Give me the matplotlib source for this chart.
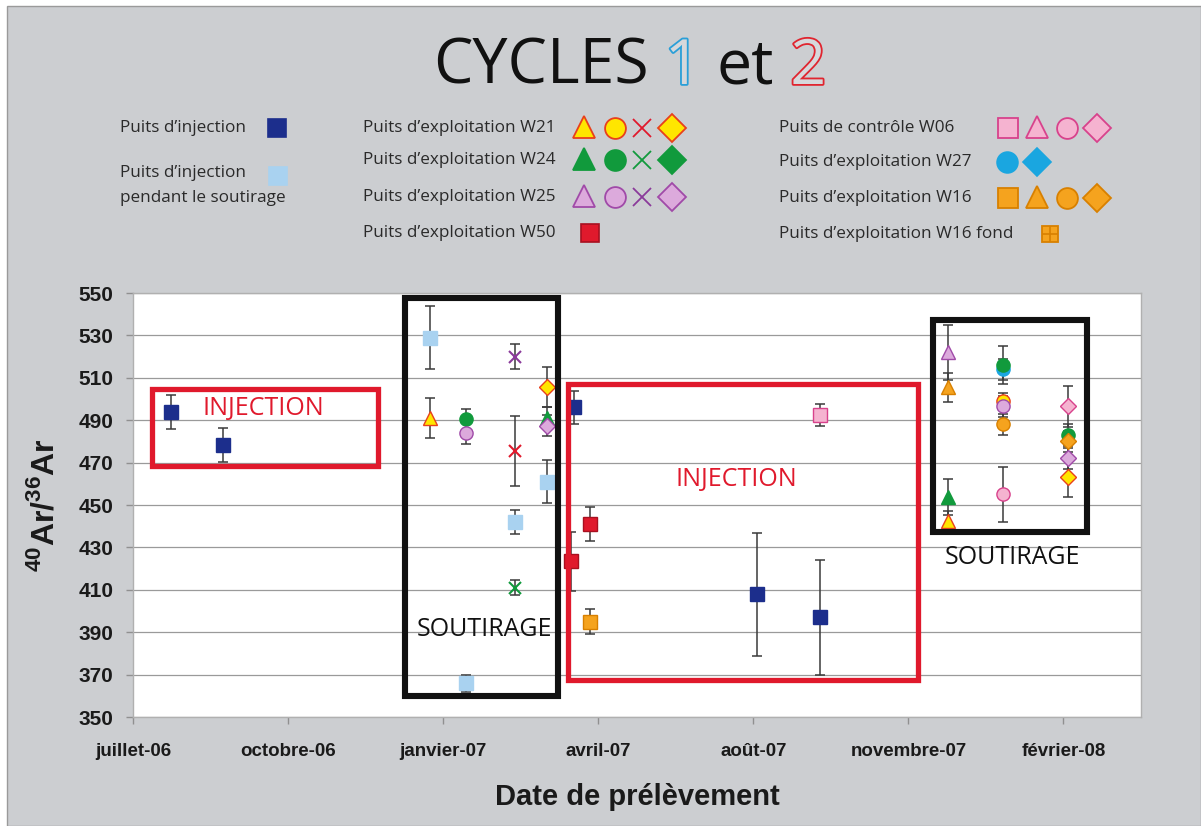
import matplotlib
matplotlib.use('Agg')
import matplotlib.pyplot as plt
import matplotlib.dates as mdates
import matplotlib.patheffects as pe
from matplotlib.patches import Rectangle
import numpy as np

plt.rcParams['mathtext.fontset'] = 'custom'
plt.rcParams['mathtext.rm'] = 'Liberation Sans:bold'
plt.rcParams['mathtext.bf'] = 'Liberation Sans:bold'

# ---------------- data ----------------
tick_labels = ['juillet-06', 'octobre-06', 'janvier-07', 'avril-07',
               'août-07', 'novembre-07', 'février-08']
y_ticks = [350, 370, 390, 410, 430, 450, 470, 490, 510, 530, 550]

inj_dates = ['2006-08-03', '2006-09-04', '2007-04-12', '2007-08-04', '2007-09-13']
inj_vals = [494, 478.5, 496, 408, 397]
inj_err = [8, 8, 8, 29, 27]

injs_dates = ['2007-01-12', '2007-03-06', '2007-03-26', '2007-02-03']
injs_vals = [529, 442, 461, 366]
injs_err = [15, 5.5, 10, 4]

w21_tri_dates = ['2007-01-12', '2007-12-02']
w21_tri_vals = [491, 442.5]
w21_tri_err = [9.5, 4.5]
w21_cir_dates = ['2008-01-05']
w21_cir_vals = [499]
w21_cir_err = [4]
w21_x_dates = ['2007-03-06']
w21_x_vals = [475.5]
w21_x_err = [16.5]
w21_dia_dates = ['2007-03-26', '2008-02-15']
w21_dia_vals = [505.5, 463]
w21_dia_err = [9.5, 9]

w24_tri_dates = ['2007-03-26', '2007-12-02']
w24_tri_vals = [491, 454]
w24_tri_err = [5, 8.5]
w24_cir_dates = ['2007-02-03', '2008-01-05', '2008-02-15']
w24_cir_vals = [490.5, 516, 483]
w24_cir_err = [5, 9, 5]
w24_x_dates = ['2007-03-06']
w24_x_vals = [411]
w24_x_err = [3.5]

w25_tri_dates = ['2007-12-02']
w25_tri_vals = [522]
w25_tri_err = [13]
w25_cir_dates = ['2007-02-03', '2008-01-05']
w25_cir_vals = [484, 496.5]
w25_cir_err = [5, 5]
w25_x_dates = ['2007-03-06']
w25_x_vals = [520]
w25_x_err = [6]
w25_dia_dates = ['2007-03-26', '2008-02-15']
w25_dia_vals = [487.5, 472]
w25_dia_err = [5, 5]

w50_dates = ['2007-04-10', '2007-04-22']
w50_vals = [423.5, 441]
w50_err = [14, 8]

w06_sq_dates = ['2007-09-13']
w06_sq_vals = [492.5]
w06_sq_err = [5]
w06_cir_dates = ['2008-01-05']
w06_cir_vals = [455]
w06_cir_err = [13]
w06_dia_dates = ['2008-02-15']
w06_dia_vals = [496.5]
w06_dia_err = [9.5]

w27_cir_dates = ['2008-01-05']
w27_cir_vals = [514]
w27_cir_err = [5]

w16_sq_dates = ['2007-04-22']
w16_sq_vals = [395]
w16_sq_err = [6]
w16_tri_dates = ['2007-12-02']
w16_tri_vals = [505.5]
w16_tri_err = [7]
w16_cir_dates = ['2008-01-05']
w16_cir_vals = [488]
w16_cir_err = [5]
w16_dia_dates = ['2008-02-15']
w16_dia_vals = [480]
w16_dia_err = [5]

# ---------------- styles ----------------
NAVY = '#1c2e8c'
LBLUE = '#a9d2f0'
YEL, YEL_E = '#ffe600', '#e8401c'
RED = '#e0192c'
GRN = '#119a3c'
LAV, LAV_E = '#dcaadc', '#a04aa8'
PURP = '#8a3a9a'
PINK, PINK_E = '#f5b3d0', '#d8428c'
CYAN = '#1aa6e0'
ORA, ORA_E = '#f5a31e', '#d88000'

series = [
    # (dates, vals, err, marker, face, edge, size)
    (inj_dates, inj_vals, inj_err, 's', NAVY, NAVY, 9.5),
    (injs_dates, injs_vals, injs_err, 's', LBLUE, LBLUE, 9.5),
    (w27_cir_dates, w27_cir_vals, w27_cir_err, 'o', CYAN, CYAN, 9.5),
    (w24_tri_dates, w24_tri_vals, w24_tri_err, '^', GRN, GRN, 10.5),
    (w24_cir_dates, w24_cir_vals, w24_cir_err, 'o', GRN, GRN, 9.5),
    (w24_x_dates, w24_x_vals, w24_x_err, 'x', GRN, GRN, 8),
    (w21_tri_dates, w21_tri_vals, w21_tri_err, '^', YEL, YEL_E, 10.5),
    (w21_cir_dates, w21_cir_vals, w21_cir_err, 'o', YEL, YEL_E, 9.5),
    (w21_x_dates, w21_x_vals, w21_x_err, 'x', RED, RED, 9),
    (w21_dia_dates, w21_dia_vals, w21_dia_err, 'D', YEL, YEL_E, 8.5),
    (w50_dates, w50_vals, w50_err, 's', RED, '#a81020', 9.5),
    (w06_sq_dates, w06_sq_vals, w06_sq_err, 's', PINK, PINK_E, 9.5),
    (w06_cir_dates, w06_cir_vals, w06_cir_err, 'o', PINK, PINK_E, 9.5),
    (w06_dia_dates, w06_dia_vals, w06_dia_err, 'D', PINK, PINK_E, 8.5),
    (w16_sq_dates, w16_sq_vals, w16_sq_err, 's', ORA, ORA_E, 9.5),
    (w16_tri_dates, w16_tri_vals, w16_tri_err, '^', ORA, ORA_E, 10.5),
    (w16_cir_dates, w16_cir_vals, w16_cir_err, 'o', ORA, ORA_E, 9.5),
    (w16_dia_dates, w16_dia_vals, w16_dia_err, 'D', ORA, ORA_E, 8.5),
    (w25_tri_dates, w25_tri_vals, w25_tri_err, '^', LAV, LAV_E, 10.5),
    (w25_cir_dates, w25_cir_vals, w25_cir_err, 'o', LAV, LAV_E, 9.5),
    (w25_x_dates, w25_x_vals, w25_x_err, 'x', PURP, PURP, 9),
    (w25_dia_dates, w25_dia_vals, w25_dia_err, 'D', LAV, LAV_E, 8.5),
]

def to_num(dates):
    return mdates.date2num(np.array(dates, dtype='datetime64[D]'))

# ---------------- figure ----------------
W, H = 1201, 826
fig = plt.figure(figsize=(W / 100, H / 100), dpi=100, facecolor='white')

ov = fig.add_axes([0, 0, 1, 1], zorder=0)
ov.set_xlim(0, W)
ov.set_ylim(H, 0)
ov.axis('off')
ov.add_patch(Rectangle((7, 6), W - 7, H - 6, facecolor='#ccced1',
                       edgecolor='#9a9a9a', lw=1))

# main axes (pixel frame: x 133..1141, y 293..717)
AX_L, AX_R, AX_T, AX_B = 133, 1141, 293, 717
ax = fig.add_axes([AX_L / W, 1 - AX_B / H, (AX_R - AX_L) / W, (AX_B - AX_T) / H],
                  zorder=1)
ax.set_facecolor('white')

x_start = mdates.date2num(np.datetime64('2006-07-10'))
x_step = 97
ax.set_xlim(x_start, x_start + 6.5 * x_step)
ax.set_xticks([x_start + k * x_step for k in range(len(tick_labels))])
ax.set_xticklabels(tick_labels)
ax.set_ylim(350, 550)
ax.set_yticks(y_ticks)
ax.grid(axis='y', color='#9a9a9a', lw=0.9)
ax.set_axisbelow(True)
for s in ax.spines.values():
    s.set_color('#b0b0b0')
    s.set_linewidth(1)
ax.tick_params(axis='both', direction='out', color='#909090', length=5, width=1)
ax.tick_params(axis='x', pad=14)
ax.tick_params(axis='y', pad=9)
for lab in ax.get_xticklabels():
    lab.set_family('Liberation Sans'); lab.set_weight('bold'); lab.set_fontsize(13.5)
    lab.set_color('#1a1a1a')
for lab in ax.get_yticklabels():
    lab.set_family('Liberation Sans'); lab.set_weight('bold'); lab.set_fontsize(15)
    lab.set_color('#1a1a1a')

# error bars first, then markers
for d, v, e, m, fc, ec, ms in series:
    ax.errorbar(to_num(d), v, yerr=e, fmt='none', ecolor='#3a3a3a', elinewidth=1.1,
                capsize=3.8, capthick=1.1, zorder=2)
for i, (d, v, e, m, fc, ec, ms) in enumerate(series):
    ax.plot(to_num(d), v, linestyle='none', marker=m, markersize=ms,
            markerfacecolor=fc, markeredgecolor=ec,
            markeredgewidth=1.5 if m == 'x' else 1.0, zorder=3 + i * 0.01)

# annotation boxes (pixel coords -> axes fraction)
def px_box(x0, y0, x1, y1):
    return ((x0 - AX_L) / (AX_R - AX_L), (AX_B - y1) / (AX_B - AX_T),
            (x1 - x0) / (AX_R - AX_L), (y1 - y0) / (AX_B - AX_T))

def px_pt(x, y):
    return ((x - AX_L) / (AX_R - AX_L), (AX_B - y) / (AX_B - AX_T))

boxes = [((152, 389, 378, 466), RED, 3.8),
         ((405, 298, 558, 696), '#111111', 4.4),
         ((568, 384, 918, 680), RED, 3.8),
         ((933, 320, 1087, 532), '#111111', 4.4)]
for (x0, y0, x1, y1), col, lw in boxes:
    bx, by, bw, bh = px_box(x0, y0, x1, y1)
    ax.add_patch(Rectangle((bx, by), bw, bh, transform=ax.transAxes, fill=False,
                           edgecolor=col, lw=lw, clip_on=False, zorder=6,
                           joinstyle='miter'))

labels_in = [('INJECTION', 263, 409, RED), ('INJECTION', 736, 480, RED),
             ('SOUTIRAGE', 484, 630, '#111111'), ('SOUTIRAGE', 1013, 557, '#111111')]
for txt, x, y, col in labels_in:
    tx, ty = px_pt(x, y)
    ax.text(tx, ty, txt, transform=ax.transAxes, ha='center', va='center',
            color=col, fontsize=18, family='Open Sans', zorder=7, clip_on=False)

ax.set_xlabel('Date de prélèvement', family='Liberation Sans', weight='bold',
              fontsize=21, color='#1a1a1a')
ax.xaxis.label.set_va('center')
ax.xaxis.set_label_coords(*px_pt(637, 797))
ax.set_ylabel(r'$^{40}$Ar/$^{36}$Ar', family='Liberation Sans', weight='bold',
              fontsize=23, color='#1a1a1a')
ax.yaxis.label.set_va('center')
ax.yaxis.set_label_coords(*px_pt(45, 505))

# ---------------- title ----------------
TFS = 45
t1 = fig.text(433 / W, 1 - 84 / H, 'CYCLES', fontsize=TFS, family='Open Sans',
              color='#111111', va='baseline', ha='left')
sp = 0.26 * TFS
t2 = ov.annotate('1', xy=(1, 0), xycoords=t1, xytext=(sp, 0), textcoords='offset points',
                 va='bottom', ha='left', fontsize=TFS, family='Open Sans', color='#d6d8db',
                 path_effects=[pe.Stroke(linewidth=2.6, foreground='#2a9fd8'), pe.Normal()])
t3 = ov.annotate('et', xy=(1, 0), xycoords=t2, xytext=(sp, 0), textcoords='offset points',
                 va='bottom', ha='left', fontsize=TFS, family='Open Sans', color='#111111')
t4 = ov.annotate('2', xy=(1, 0), xycoords=t3, xytext=(sp, 0), textcoords='offset points',
                 va='bottom', ha='left', fontsize=TFS, family='Open Sans', color='#d6d8db',
                 path_effects=[pe.Stroke(linewidth=2.6, foreground='#e0252f'), pe.Normal()])

# ---------------- legend (pixel overlay) ----------------
LFS = 12.3
LCOL = '#2a2a2a'
def ltext(x, y, s):
    ov.text(x, y, s, fontsize=LFS, family='Open Sans', color=LCOL, va='center', ha='left')

def lmark(x, y, m, fc, ec, ms=12, mew=1.2):
    ov.plot([x], [y], linestyle='none', marker=m, markersize=ms, markerfacecolor=fc,
            markeredgecolor=ec, markeredgewidth=mew)

ltext(120, 128, 'Puits d\u2019injection')
lmark(277, 128, 's', NAVY, NAVY, 13)
ltext(120, 173, 'Puits d\u2019injection')
ltext(120, 198, 'pendant le soutirage')
lmark(278, 176, 's', LBLUE, LBLUE, 13)

c2 = [584, 615, 642, 672]
rows2 = [(128, 'Puits d\u2019exploitation W21', YEL, YEL_E, RED),
         (160, 'Puits d\u2019exploitation W24', GRN, GRN, GRN),
         (197, 'Puits d\u2019exploitation W25', LAV, LAV_E, PURP)]
for y, s, fc, ec, xc in rows2:
    ltext(363, y, s)
    lmark(c2[0], y - 1, '^', fc, ec, 16, 1.3)
    lmark(c2[1], y, 'o', fc, ec, 15, 1.3)
    lmark(c2[2], y, 'x', xc, xc, 13, 1.3)
    lmark(c2[3], y, 'D', fc, ec, 14, 1.3)
ltext(363, 233, 'Puits d\u2019exploitation W50')
lmark(590, 233, 's', RED, '#a81020', 13)

c3 = [1008, 1037, 1067, 1097]
ltext(779, 128, 'Puits de contr\u00f4le W06')
lmark(c3[0], 128, 's', PINK, PINK_E, 14, 1.3)
lmark(c3[1], 127, '^', PINK, PINK_E, 16, 1.3)
lmark(c3[2], 128, 'o', PINK, PINK_E, 15, 1.3)
lmark(c3[3], 128, 'D', PINK, PINK_E, 14, 1.3)
ltext(779, 162, 'Puits d\u2019exploitation W27')
lmark(1007, 162, 'o', CYAN, CYAN, 15)
lmark(1037, 162, 'D', CYAN, CYAN, 14)
ltext(779, 198, 'Puits d\u2019exploitation W16')
lmark(c3[0], 198, 's', ORA, ORA_E, 14, 1.3)
lmark(c3[1], 197, '^', ORA, ORA_E, 16, 1.3)
lmark(c3[2], 198, 'o', ORA, ORA_E, 15, 1.3)
lmark(c3[3], 198, 'D', ORA, ORA_E, 14, 1.3)
ltext(779, 234, 'Puits d\u2019exploitation W16 fond')
lmark(1050, 234, 's', ORA, ORA_E, 12, 1.3)
lmark(1050, 234, '+', ORA_E, ORA_E, 12, 1.2)

fig.savefig('out.png', dpi=100, facecolor=fig.get_facecolor())
